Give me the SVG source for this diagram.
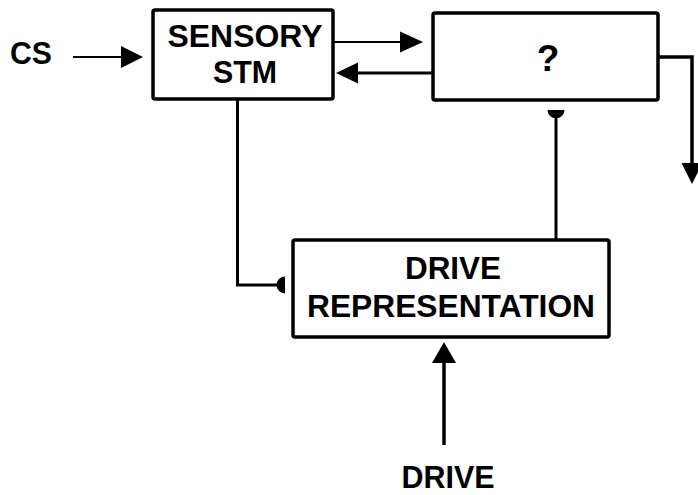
<svg xmlns="http://www.w3.org/2000/svg" width="698" height="495" viewBox="0 0 698 495">
  <style>
    .box { fill: #ffffff; stroke: #000000; stroke-width: 3.5; stroke-linejoin: round; }
    .label { font-family: "Liberation Sans", Arial, sans-serif; font-weight: bold; font-size: 30.5px; fill: #000000; text-anchor: middle; }
    .wire { fill: none; stroke: #000000; stroke-linejoin: miter; }
    .head { fill: #000000; stroke: none; }
  </style>

  <!-- connectors -->
  <g id="connectors">
    <!-- CS input -->
    <line class="wire" x1="73" y1="57" x2="122" y2="57" stroke-width="2"/>
    <polygon class="head" points="121,46 143,57 121,68"/>
    <!-- STM to ? -->
    <line class="wire" x1="333" y1="42" x2="401" y2="42" stroke-width="2"/>
    <polygon class="head" points="400,31.5 423,42 400,52.5"/>
    <!-- ? back to STM -->
    <line class="wire" x1="433" y1="73" x2="357" y2="73" stroke-width="3"/>
    <polygon class="head" points="358,62.5 336,73 358,83.5"/>
    <!-- ? output -->
    <polyline class="wire" points="658,57 692,57 692,165" stroke-width="3.5"/>
    <polygon class="head" points="681.5,163 702.5,163 692,184"/>
    <!-- STM to drive representation (inhibitory ending) -->
    <polyline class="wire" points="237.5,99 237.5,285 278,285" stroke-width="3"/>
    <path class="head" d="M285,276.5 A8.5,8.5 0 0 0 285,293.5 Z"/>
    <!-- drive representation to ? (inhibitory ending) -->
    <line class="wire" x1="556" y1="240" x2="556" y2="115" stroke-width="3"/>
    <path class="head" d="M547.5,110 A8.5,8.5 0 0 0 564.5,110 Z"/>
    <!-- drive input -->
    <line class="wire" x1="444" y1="445" x2="444" y2="361" stroke-width="3.5"/>
    <polygon class="head" points="432,363 444,342 456,363"/>
  </g>

  <g id="cs">
    <text class="label" x="31" y="64" textLength="42" lengthAdjust="spacingAndGlyphs">CS</text>
  </g>

  <g id="sensory-stm">
    <rect class="box" x="153" y="10" width="180" height="89" rx="2"/>
    <text class="label" x="245" y="47" textLength="155" lengthAdjust="spacingAndGlyphs">SENSORY</text>
    <text class="label" x="245" y="83" textLength="64" lengthAdjust="spacingAndGlyphs">STM</text>
  </g>

  <g id="unknown">
    <rect class="box" x="433" y="13" width="225" height="87" rx="2"/>
    <text class="label" x="548" y="71" style="font-size:37px">?</text>
  </g>

  <g id="drive-representation">
    <rect class="box" x="293" y="240" width="316" height="97" rx="2"/>
    <text class="label" x="453" y="279" textLength="96" lengthAdjust="spacingAndGlyphs">DRIVE</text>
    <text class="label" x="451" y="317" textLength="288" lengthAdjust="spacingAndGlyphs">REPRESENTATION</text>
  </g>

  <g id="drive">
    <text class="label" x="448" y="488" textLength="93" lengthAdjust="spacingAndGlyphs">DRIVE</text>
  </g>
</svg>
